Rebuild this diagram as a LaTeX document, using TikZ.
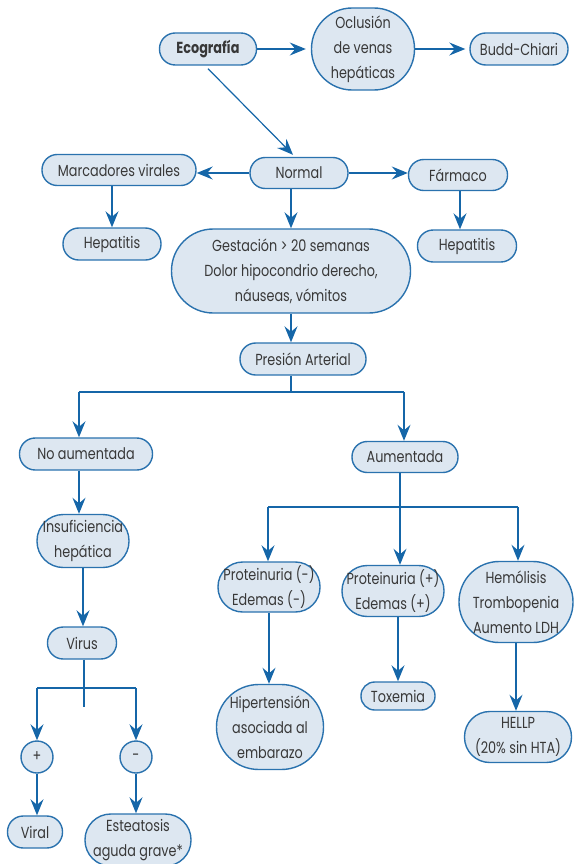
\documentclass[tikz,border=0pt]{standalone}
\usepackage{fontspec}
\setmainfont[FakeStretch=0.8]{Poppins}
\usetikzlibrary{arrows.meta}
\definecolor{fillc}{HTML}{DDE7F1}
\definecolor{edge}{HTML}{2A72AE}
\definecolor{arr}{HTML}{1566A8}
\definecolor{txt}{HTML}{383838}
\begin{document}
\begin{tikzpicture}[x=1pt,y=-1pt,
  base/.style={draw=edge, line width=1.4pt, fill=fillc, text=txt,
    font=\fontsize{16}{25}\selectfont, align=center, inner sep=0pt},
  box/.style 2 args={base, rectangle, minimum width=#1, minimum height=#2, rounded corners=#2/2-0.3},
  cbox/.style={base, circle, minimum size=32},
  conn/.style={draw=arr, line width=1.2pt},
  arrow/.style={conn, -{Stealth[length=16pt,width=13pt,inset=5.5pt]}}]
\useasboundingbox (0,0) rectangle (573,864);

\node[box={97}{32}] (eco) at (208,49) {\textbf{Ecografía}};
\node[box={103}{82}] (ocl) at (363,49) {Oclusión\\de venas\\hepáticas};
\node[box={98}{32}] (budd) at (519,49) {Budd-Chiari};
\node[box={98}{31}] (normal) at (299,173) {Normal};
\node[box={154}{31}] (marc) at (119,170) {Marcadores virales};
\node[box={99}{31}] (farm) at (458,175) {Fármaco};
\node[box={98}{32}] (hep1) at (112,244) {Hepatitis};
\node[box={99}{32}] (hep2) at (467,246) {Hepatitis};
\node[box={239}{84}] (gest) at (291,271) {Gestación > 20 semanas\\Dolor hipocondrio derecho,\\náuseas, vómitos};
\node[box={126}{32}] (pres) at (303,359) {Presión Arterial};
\node[box={133}{32}] (noaum) at (86,454) {No aumentada};
\node[box={106}{31}] (aum) at (405,457) {Aumentada};
\node[box={92}{53}] (insuf) at (83,541) {Insuficiencia\\hepática};
\node[box={69}{32}] (virus) at (82,643) {Virus};
\node[cbox] (pos) at (37,757) {+};
\node[cbox] (neg) at (136,757) {-};
\node[box={55}{32}] (viral) at (35,832) {Viral};
\node[box={106}{52}] (este) at (138,840) {Esteatosis\\aguda grave*};
\node[box={102}{50}] (pm) at (269,587) {Proteinuria (-)\\Edemas (-)};
\node[box={102}{51}] (pp) at (393,591) {Proteinuria (+)\\Edemas (+)};
\node[box={114}{81}] (hem) at (516,602) {Hemólisis\\Trombopenia\\Aumento LDH};
\node[box={107}{85}] (hip) at (270,727) {Hipertensión\\asociada al\\embarazo};
\node[box={74}{28}] (tox) at (398,696) {Toxemia};
\node[box={107}{51}] (hellp) at (518,737) {HELLP\\(20\% sin HTA)};

% top row
\draw[arrow] (eco.east) -- ([xshift=-5pt]ocl.west);
\draw[arrow] (ocl.east) -- ([xshift=-4pt]budd.west);
\draw[arrow] ([yshift=-3pt]eco.south) -- ([xshift=-6pt,yshift=2pt]normal.north);
\draw[arrow] (normal.west) -- (normal.west -| marc.east);
\draw[arrow] (normal.east) -- (normal.east -| farm.west);
\draw[arrow] (hep1.north |- marc.south) -- (hep1.north);
\draw[arrow] ([xshift=2pt]farm.south) -- ([xshift=2pt]farm.south |- hep2.north);
\draw[arrow] (gest.north |- normal.south) -- (gest.north);
\draw[arrow] (gest.south) -- (gest.south |- pres.north);

% Presion branch
\coordinate (b0) at (291,392);
\coordinate (bL) at (79,392);
\coordinate (bR) at (404,392);
\draw[conn] (b0 |- pres.south) -- (b0);
\draw[conn] (bL) -- (bR);
\draw[arrow] (bL) -- (bL |- noaum.north);
\draw[arrow] (bR) -- (bR |- aum.north);

% Aumentada branch
\coordinate (c0) at (400,507);
\coordinate (cL) at (268,507);
\coordinate (cR) at (518,507);
\draw[conn] (c0 |- aum.south) -- (c0);
\draw[conn] (cL) -- (cR);
\draw[arrow] (cL) -- (cL |- pm.north);
\draw[arrow] (c0) -- (c0 |- pp.north);
\draw[arrow] (cR) -- (cR |- hem.north);
\draw[arrow] (pm.south) -- (pm.south |- hip.north);
\draw[arrow] (tox.north |- pp.south) -- (tox.north);
\draw[arrow] (hem.south) -- (hem.south |- hellp.north);

% left column
\coordinate (n0) at (79,470);
\draw[arrow] (n0 |- noaum.south) -- (n0 |- insuf.north);
\draw[arrow] (insuf.south) -- (insuf.south |- virus.north);
\coordinate (v0) at (84,688);
\coordinate (vS) at (84,707);
\coordinate (vL) at (37,688);
\coordinate (vR) at (136,688);
\draw[conn] (v0 |- virus.south) -- (vS);
\draw[conn] (vL) -- (vR);
\draw[arrow] (vL) -- (pos.north);
\draw[arrow] (vR) -- (neg.north);
\draw[arrow] (pos.south) -- (pos.south |- viral.north);
\draw[arrow] (neg.south) -- (neg.south |- este.north);
\end{tikzpicture}
\end{document}
